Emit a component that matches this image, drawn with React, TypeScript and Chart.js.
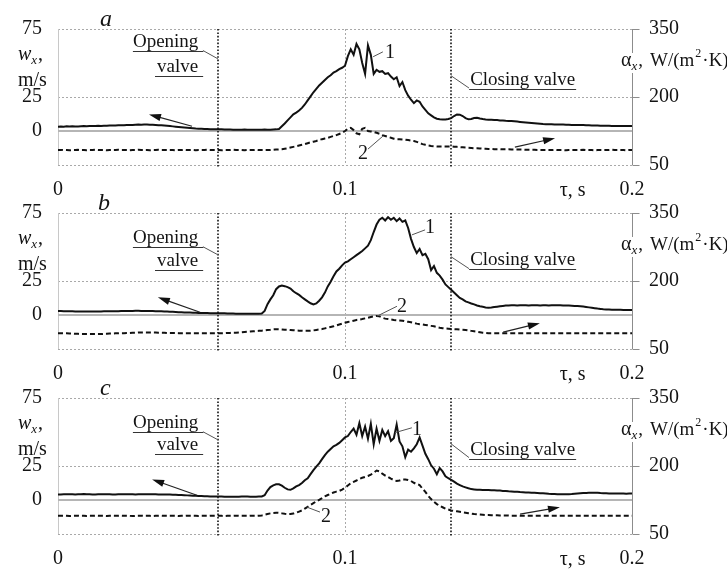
import React, { useEffect, useRef } from "react";
import { Chart, registerables } from "chart.js";

Chart.register(...registerables);

const FONT = "'Liberation Serif', 'Times New Roman', Times, serif";
const INK = "#141414";

// time axis (s), 1 ms step
const TIME: number[] = Array.from({ length: 201 }, (_, i) => i / 1000);
const X_TICKS = [0, 0.1, 0.2];
const X_TICK_LABELS = ["0", "0.1", "0.2"];
const W_TICKS = [0, 25, 75];
const ALPHA_TICKS = [50, 200, 350];
const W_GRID_DOTTED = [-25, 25, 75];
const T_GRID_DOTTED = [0.1];
const VALVE_TIMES = [0.0557, 0.1369];

// panel a: velocity w_x (m/s) and heat transfer coefficient alpha_x (W/(m2 K))
const W_A = [
  3.2,3.3,3.2,3.4,3.3,3.5,3.4,3.4,3.5,3.6,3.5,3.6,3.7,3.6,3.8,3.7,3.8,3.9,4.0,4.0,4.1,
  4.2,4.2,4.3,4.4,4.5,4.5,4.6,4.7,4.6,4.8,4.7,4.6,4.6,4.5,4.3,4.2,4.0,3.8,3.6,3.4,
  3.2,3.0,2.8,2.6,2.4,2.2,2.0,1.8,1.7,1.6,1.5,1.4,1.3,1.3,1.2,
  1.2,1.2,1.1,1.1,1.1,1.0,1.0,1.0,1.0,1.1,1.0,1.0,1.0,1.0,1.0,1.0,1.1,1.0,1.0,1.1,1.2,
  1.5,3.5,5.5,7.8,10.0,12.2,13.5,15.0,17.0,19.5,22.5,25.5,28.5,31.0,33.5,35.5,37.5,39.5,41.0,43.0,44.0,45.5,46.5,48.0,
  55,60,56,64,60,50,42,63,56,42,45,43.5,44,42,42.5,40,38,39.5,33,36,
  30,26,23,20.5,22.5,21.5,18,15.5,13,11.5,10,9,8.6,8.4,8.5,8.8,9.5,11,12.2,12,
  11,9.5,8.6,8.8,9.5,9.8,9.2,8.8,8.5,8.3,8.2,8.1,8.0,7.8,7.7,7.5,7.4,7.3,7.1,6.9,
  6.7,6.5,6.3,6.1,5.9,5.7,5.5,5.3,5.1,5.0,4.9,4.9,4.8,4.8,4.7,4.7,4.6,4.6,4.5,4.5,
  4.5,4.4,4.4,4.3,4.2,4.1,4.0,4.0,3.9,3.9,3.8,3.8,3.7,3.7,3.6,3.7,3.6,3.7,3.6,3.7,
];
const ALPHA_A = [
  83,83,83.5,83,82.5,83,83,83.5,83,83,82.5,83,83,83.5,83,83,83,82.5,83,83,
  83,83.5,83,83,83,82.5,83,83,83.5,83,83,83,82.5,83,83,83.5,83,83,83,83,
  83,82.5,83,83,83.5,83,83,83,82.5,83,83,83,83.5,83,83,83,83,82.5,83,83,
  83,83.5,83,83,83,82.5,83,83,83,83.5,83,83,83,83,83,83.5,84,84.5,
  85,86,87,88.5,90,91.5,93,94.5,96,98,100,101.5,103,105,107,108.5,110,112,114,116,118.5,121,125,
  130,132,127,120,118,130,132,125,124,123,121,119,116,114,112,110,108,107,107,106.5,
  106,105,104,103,101,98.5,96,94.5,93,92,91.5,91,91,91,91,91,91,90.5,90,89.5,
  89,88.5,88,87.5,87,87,86.5,86,86,85.5,85.5,85,85,85,84.5,84.5,84.5,84,84,84,
  84,84,83.5,83.5,83.5,83.5,83,83,83,83,83,83,83.5,83,83,83,82.5,83,83,83,
  83,83,83.5,83,83,83,82.5,83,83,83,83,83,83.5,83,83,83,83,82.5,83,83,
];

// panel b
const W_B = [
  2.9,2.9,2.8,2.8,2.7,2.7,2.6,2.6,2.6,2.5,2.5,2.5,2.5,2.6,2.6,2.6,2.7,2.7,2.7,2.8,2.8,
  2.8,2.9,2.9,3.0,3.0,3.0,3.1,3.1,3.0,3.0,3.0,2.9,2.9,2.8,2.8,2.7,2.6,2.5,2.4,2.3,
  2.2,2.1,2.0,1.9,1.8,1.8,1.7,1.6,1.5,1.5,1.4,1.4,1.3,1.3,1.3,
  1.2,1.2,1.2,1.1,1.1,1.1,1.0,1.0,1.0,1.0,1.0,1.0,1.0,1.0,1.0,1.1,
  3.0,8.0,11.5,14.5,19.0,21.0,21.7,21.2,20.5,19.5,17.5,16.0,14.8,13.0,11.5,10.0,8.6,7.8,8.5,
  10.5,13.0,16.5,21.0,24.5,28.5,32.0,34.0,36.5,38.5,39.5,41.0,42.5,44.0,45.5,47.0,49.0,51.0,55.0,61.0,
  66.5,70.0,71.5,69.5,72.0,70.0,71.5,69.0,71.0,68.5,69.5,64.0,56.0,50.0,45.5,48.5,44.0,45.0,41.0,33.0,
  36.0,31.0,29.0,26.0,22.5,20.5,18.5,16.5,14.5,12.5,11.5,10.0,9.3,8.5,7.8,7.0,6.4,6.0,5.6,5.4,
  5.5,5.8,6.1,6.4,6.7,6.9,7.0,7.1,7.1,7.0,7.1,7.2,7.1,7.0,7.1,7.2,7.1,7.0,7.1,7.1,
  7.0,7.1,7.2,7.2,7.1,7.0,6.9,6.9,6.8,6.7,6.6,6.5,6.2,5.9,5.6,5.3,5.0,4.7,4.5,4.2,
  4.1,4.0,3.9,3.9,3.8,3.8,3.7,3.7,3.7,3.7,
];
const ALPHA_B = [
  85,85,84.5,84.5,84,84,83.5,83.5,83,83,83,83,83,83,83,83,83.5,83.5,84,84,84.5,
  84.5,85,85,85.5,85.5,86,86,86.5,86.5,86.5,86.5,86.5,86.5,86.5,86,86,86,85.5,85.5,85.5,
  85.5,85,85,85,85,85,85,85,85,85,85,85,85,85,85,85,85,85,85.5,85.5,
  86,86,86.5,87,87.5,88,88.5,89,89.5,90,90.5,91,92,92.5,93.5,93.8,93.5,93,92.5,92.5,
  92,91.5,91,90.5,90.5,90,90,90.5,91,92,93,94,95.5,97,98.5,100,102,104,106,108,
  109.5,111,112.5,114,115,116,117.5,119,120.5,122,123,122,119,117,116,115,114,113.5,113,112.5,
  111,110,109,107.5,106,104.7,104,103,102,101,100,98.5,97,96,95.3,94.8,94.3,93.8,93.5,93,
  92.5,92,91,90,89,88,87,86,85.5,85,85,85,85,85,85,85,85,85,85,85,
  85,85,85,85,85,85,85,85,85,85,85,85,85,85,85,85,85,85,85,85,
  85,85,85,85,85,85,85,85,85,85,85,85,85,85,85,85,85,85,85,85,
];

// panel c
const W_C = [
  4.0,4.1,4.2,4.2,4.3,4.2,4.1,4.2,4.3,4.4,4.3,4.2,4.1,4.1,4.2,4.2,4.3,4.2,4.2,4.1,4.1,
  4.2,4.2,4.3,4.3,4.2,4.2,4.1,4.2,4.2,4.3,4.3,4.2,4.2,4.2,4.1,4.1,4.1,4.0,4.0,3.9,
  3.8,3.7,3.6,3.5,3.4,3.3,3.2,3.1,3.0,2.9,2.8,2.7,2.6,2.6,2.5,
  2.5,2.5,2.4,2.4,2.4,2.4,2.4,2.4,2.5,2.5,2.5,2.4,2.4,2.4,2.5,2.6,
  3.5,7.0,9.5,10.8,11.5,11.5,10.5,9.0,7.8,7.5,8.5,10.0,11.0,12.5,14.5,16.0,19.0,22.0,24.5,
  27.0,30.0,33.0,35.5,37.5,39.5,40.5,42.0,44.0,46.0,47.0,50.0,52.5,48.0,56.5,47.0,54.0,45.0,56.0,41.0,
  52.5,43.5,51.5,47.0,50.5,43.5,45.5,55.5,43.0,39.5,31.5,37.0,35.5,38.0,41.0,46.0,40.0,34.0,30.0,25.5,
  23.0,19.0,23.5,21.0,17.5,16.0,14.8,13.5,12.0,11.0,10.0,9.3,8.6,8.0,7.8,7.6,7.5,7.4,7.3,7.3,
  7.2,7.1,7.0,6.9,6.7,6.6,6.4,6.3,6.1,6.0,5.8,5.7,5.6,5.5,5.4,5.3,5.2,5.0,4.9,4.8,
  4.6,4.5,4.4,4.3,4.2,4.2,4.2,4.3,4.4,4.6,4.8,5.0,5.1,5.2,5.3,5.4,5.4,5.3,5.1,5.0,
  4.9,4.8,4.8,4.7,4.7,4.8,4.7,4.6,4.7,4.7,
];
const ALPHA_C = [
  90,90,90.5,90,89.5,90,90,90.5,90,90,89.5,90,90,90.5,90,90,90,89.5,90,90,90,
  90,90.5,90,90,90,89.5,90,90,90.5,90,90,90,89.5,90,90,90.5,90,90,90,90,
  90,89.5,90,90,90.5,90,90,90,89.5,90,90,90,90.5,90,90,90,90,89.5,90,90,
  90,90.5,90,90,90,90,90.5,90,90,90.5,
  91,92.5,94,95.5,96.5,97,96.5,95.5,94.5,94,94,95,97,99.5,102,106,110,114,118,122,
  125.5,129,133,136,139,141.5,143.5,145,148,152,157,162,165,168,171.5,174,176,178,181,185,
  190,188,183,179,176,172,169,167,168,170,170,169,167,163,160,158,150,143,134,127,
  121,116,112,109,106,104,102,101,100,99,98,97,96,95,94,93.5,93,92.5,92,92,
  91.5,91.5,91.5,91,91,91,91,90.5,90.5,90.5,
  90,90,90,90,90,90,90,90,90,90,90,90,90,90,90,90,90,90,90,90,
  90,90,90,90,90,90,90,90,90,90,90,90,90,90,90,90,90,90,90,90,
];

type Pt = [number, number];
type Seg = [number, number, number, number];
type Ann = {
  letter: Pt; opening: Pt; valve: Pt; openLeader: Seg; closing: Pt; closeLeader: Seg;
  label1: Pt; lead1: Seg; label2: Pt; lead2: Seg; arrowL: Seg; arrowR: Seg;
};

// annotation anchors in data units (t in s, w in m/s)
const ANN_A: Ann = {
  letter: [0.0146, 77.2], opening: [0.0261, 61.9], valve: [0.0345, 43.2],
  openLeader: [0.0505, 59.2, 0.0557, 53.1], closing: [0.1436, 34.1], closeLeader: [0.1432, 31.6, 0.1369, 40.7],
  label1: [0.1157, 57.5], lead1: [0.1132, 58.2, 0.1098, 54.6],
  label2: [0.1063, -17.0], lead2: [0.108, -13.3, 0.1132, -3.8],
  arrowL: [0.0467, 3.5, 0.0317, 12.2], arrowR: [0.1592, -11.9, 0.1732, -5.3],
};
const ANN_B: Ann = {
  letter: [0.0139, 77.2], opening: [0.0261, 53.1], valve: [0.0345, 36.3],
  openLeader: [0.0505, 50.2, 0.0557, 44.3], closing: [0.1436, 37.0], closeLeader: [0.1432, 34.1, 0.1369, 42.9],
  label1: [0.1296, 64.1], lead1: [0.1279, 62.6, 0.1233, 58.9],
  label2: [0.1199, 5.7], lead2: [0.1181, 6.4, 0.1111, -0.9],
  arrowL: [0.0495, 2.0, 0.0348, 13.0], arrowR: [0.1551, -12.6, 0.1679, -6.0],
};
const ANN_C: Ann = {
  letter: [0.0146, 77.2], opening: [0.0261, 53.1], valve: [0.0345, 37.0],
  openLeader: [0.0505, 50.2, 0.0557, 44.3], closing: [0.1436, 33.4], closeLeader: [0.1432, 31.2, 0.1369, 41.4],
  label1: [0.1251, 51.6], lead1: [0.1233, 53.1, 0.1174, 49.5],
  label2: [0.0934, -12.6], lead2: [0.0913, -8.9, 0.0868, -5.3],
  arrowL: [0.0484, 3.5, 0.0328, 15.1], arrowR: [0.161, -10.4, 0.1749, -5.3],
};

const PANELS = [
  { letter: "a", w: W_A, alpha: ALPHA_A, ann: ANN_A },
  { letter: "b", w: W_B, alpha: ALPHA_B, ann: ANN_B },
  { letter: "c", w: W_C, alpha: ALPHA_C, ann: ANN_C },
];
const PANEL_TOPS = [0, 184, 369];
const TAU_POS = 0.1748;

const fnt = (size: number, italic = false) => `${italic ? "italic " : ""}${size}px ${FONT}`;

function decorPlugin(p: any) {
  return {
    id: "decor",
    beforeDatasetsDraw(chart: any) {
      const { ctx, chartArea: a } = chart;
      const xs = chart.scales.x, ys = chart.scales.y, y1 = chart.scales.y1;
      const seg = (x1: number, yA: number, x2: number, yB: number) => {
        ctx.beginPath(); ctx.moveTo(x1, yA); ctx.lineTo(x2, yB); ctx.stroke();
      };
      ctx.save();
      ctx.lineWidth = 1; ctx.strokeStyle = "#a9a9a9"; ctx.setLineDash([2, 2]);
      W_GRID_DOTTED.forEach((v) => { const py = Math.round(ys.getPixelForValue(v)) + 0.5; seg(a.left, py, a.right, py); });
      T_GRID_DOTTED.forEach((t) => { const px = Math.round(xs.getPixelForValue(t)) + 0.5; seg(px, a.top, px, a.bottom); });
      ctx.setLineDash([]);
      ctx.strokeStyle = "#c8c8c8";
      seg(Math.round(a.left) + 0.5, a.top, Math.round(a.left) + 0.5, a.bottom);
      ctx.strokeStyle = "#b5b5b5"; ctx.lineWidth = 2;
      const z = ys.getPixelForValue(0); seg(a.left, z, a.right, z);
      ctx.strokeStyle = "#8c8c8c"; ctx.lineWidth = 1;
      const rx = Math.round(a.right) + 0.5; seg(rx, a.top, rx, a.bottom);
      ALPHA_TICKS.forEach((v) => { const py = Math.round(y1.getPixelForValue(v)) + 0.5; seg(rx, py, rx + 7, py); });
      ctx.strokeStyle = "#111"; ctx.lineWidth = 1.6; ctx.setLineDash([1.6, 1.8]);
      VALVE_TIMES.forEach((t) => { const px = Math.round(xs.getPixelForValue(t)); seg(px, a.top, px, a.bottom + 2); });
      ctx.restore();
    },
    afterDraw(chart: any) {
      const { ctx, chartArea: a } = chart;
      const xs = chart.scales.x, ys = chart.scales.y;
      const ann: Ann = p.ann;
      const P = (q: Pt): Pt => [xs.getPixelForValue(q[0]), ys.getPixelForValue(q[1])];
      const seg = (x1: number, yA: number, x2: number, yB: number) => {
        ctx.beginPath(); ctx.moveTo(x1, yA); ctx.lineTo(x2, yB); ctx.stroke();
      };
      const segD = (s: Seg) => {
        const [x1, yA] = P([s[0], s[1]]); const [x2, yB] = P([s[2], s[3]]); seg(x1, yA, x2, yB);
      };
      ctx.save();
      ctx.fillStyle = INK; ctx.textAlign = "left"; ctx.textBaseline = "alphabetic";

      // panel letter
      ctx.font = fnt(24, true);
      const [lx, ly] = P(ann.letter); ctx.fillText(p.letter, lx, ly);

      // underlined captions
      const under = (txt: string, pos: Pt, extL: number, extR: number) => {
        ctx.font = fnt(19); ctx.fillStyle = INK;
        const [x, y] = P(pos); ctx.fillText(txt, x, y);
        const w = ctx.measureText(txt).width;
        ctx.strokeStyle = "#333"; ctx.lineWidth = 1;
        seg(x - extL, Math.round(y + 4) + 0.5, x + w + extR, Math.round(y + 4) + 0.5);
      };
      under("Opening", ann.opening, 0, 5);
      under("valve", ann.valve, 2, 5);
      under("Closing valve", ann.closing, 1, 1);

      // leader lines
      ctx.strokeStyle = "#555"; ctx.lineWidth = 1;
      segD(ann.openLeader); segD(ann.closeLeader); segD(ann.lead1); segD(ann.lead2);

      // curve labels
      ctx.font = fnt(20); ctx.textAlign = "center"; ctx.textBaseline = "middle"; ctx.fillStyle = INK;
      let q = P(ann.label1); ctx.fillText("1", q[0], q[1]);
      q = P(ann.label2); ctx.fillText("2", q[0], q[1]);

      // arrows
      const arrow = (s: Seg) => {
        const [x1, yA] = P([s[0], s[1]]); const [x2, yB] = P([s[2], s[3]]);
        const ang = Math.atan2(yB - yA, x2 - x1); const c = Math.cos(ang), sn = Math.sin(ang);
        const L = 12, W = 3.6;
        ctx.strokeStyle = "#222"; ctx.lineWidth = 1.2;
        seg(x1, yA, x2 - c * L * 0.7, yB - sn * L * 0.7);
        ctx.fillStyle = "#111";
        ctx.beginPath(); ctx.moveTo(x2, yB);
        ctx.lineTo(x2 - c * L + sn * W, yB - sn * L - c * W);
        ctx.lineTo(x2 - c * L - sn * W, yB - sn * L + c * W);
        ctx.closePath(); ctx.fill();
      };
      arrow(ann.arrowL); arrow(ann.arrowR);

      // left axis title: w_x, m/s
      ctx.fillStyle = INK; ctx.textAlign = "left"; ctx.textBaseline = "alphabetic";
      let x = 18;
      ctx.font = fnt(20, true); ctx.fillText("w", x, a.top + 31); x += ctx.measureText("w").width;
      ctx.font = fnt(13, true); ctx.fillText("x", x, a.top + 35); x += ctx.measureText("x").width;
      ctx.font = fnt(20); ctx.fillText(",", x + 1, a.top + 31);
      ctx.fillText("m/s", 18, a.top + 57);

      // right axis title: alpha_x, W/(m2.K)
      ctx.fillStyle = "#fff"; ctx.fillRect(a.right - 2, a.top + 24, 6, 20);
      ctx.fillStyle = INK;
      x = a.right - 11;
      ctx.font = fnt(20); ctx.fillText("\u03b1", x, a.top + 37); x += ctx.measureText("\u03b1").width;
      ctx.font = fnt(13, true); ctx.fillText("x", x, a.top + 41); x += ctx.measureText("x").width;
      ctx.font = fnt(19); ctx.fillText(",", x + 1, a.top + 37);
      x = a.right + 18;
      ctx.fillText("W/(m", x, a.top + 37); x += ctx.measureText("W/(m").width + 1;
      ctx.font = fnt(12); ctx.fillText("2", x, a.top + 28); x += ctx.measureText("2").width + 1;
      ctx.font = fnt(19); ctx.fillText("\u00b7K)", x, a.top + 37);

      // x-axis title
      ctx.font = fnt(20); ctx.textBaseline = "middle";
      ctx.fillText("\u03c4, s", xs.getPixelForValue(TAU_POS), a.bottom + 26);
      ctx.restore();
    },
  };
}

function Panel({ cfg, top }: { cfg: any; top: number }) {
  const ref = useRef<HTMLCanvasElement>(null);
  useEffect(() => {
    const tickFont = { family: FONT, size: 20 };
    const chart = new Chart(ref.current as HTMLCanvasElement, {
      type: "line",
      data: {
        datasets: [
          {
            data: TIME.map((t, i) => ({ x: t, y: cfg.w[i] })),
            yAxisID: "y", borderColor: "#111", borderWidth: 2, pointRadius: 0, tension: 0, fill: false,
          },
          {
            data: TIME.map((t, i) => ({ x: t, y: cfg.alpha[i] })),
            yAxisID: "y1", borderColor: "#111", borderWidth: 2, borderDash: [5, 3], pointRadius: 0, tension: 0, fill: false,
          },
        ],
      },
      options: {
        responsive: false,
        animation: false,
        devicePixelRatio: 1,
        events: [],
        layout: { padding: { top: 29, left: 0, right: 0, bottom: 0 } },
        plugins: { legend: { display: false }, tooltip: { enabled: false } },
        scales: {
          x: {
            type: "linear", position: "bottom", min: 0, max: 0.2,
            afterBuildTicks: (s: any) => { s.ticks = X_TICKS.map((v) => ({ value: v })); },
            ticks: {
              callback: (_v: any, i: number) => X_TICK_LABELS[i],
              font: tickFont, color: INK, padding: 13, maxRotation: 0, autoSkip: false,
            },
            grid: { display: false, drawTicks: false },
            border: { display: false },
            afterFit: (s: any) => { s.height = 35; },
          },
          y: {
            type: "linear", position: "left", min: -25, max: 75,
            afterBuildTicks: (s: any) => { s.ticks = W_TICKS.map((v) => ({ value: v })); },
            ticks: { callback: (v: any) => String(v), font: tickFont, color: INK, padding: 16 },
            grid: { display: false, drawTicks: false },
            border: { display: false },
            afterFit: (s: any) => { s.width = 58; },
          },
          y1: {
            type: "linear", position: "right", min: 50, max: 350,
            afterBuildTicks: (s: any) => { s.ticks = ALPHA_TICKS.map((v) => ({ value: v })); },
            ticks: { callback: (v: any) => String(v), font: tickFont, color: INK, padding: 17 },
            grid: { display: false, drawTicks: false },
            border: { display: false },
            afterFit: (s: any) => { s.width = 95; },
          },
        },
      } as any,
      plugins: [decorPlugin(cfg)],
    });
    return () => chart.destroy();
  }, [cfg]);
  return (
    <canvas
      ref={ref}
      width={727}
      height={200}
      style={{ position: "absolute", left: 0, top, width: 727, height: 200, display: "block" }}
    />
  );
}

export default function App() {
  return (
    <div style={{ position: "absolute", left: 0, top: 0, width: 727, height: 569, background: "#fff", overflow: "hidden" }}>
      {PANELS.map((p, i) => (
        <Panel key={p.letter} cfg={p} top={PANEL_TOPS[i]} />
      ))}
    </div>
  );
}
